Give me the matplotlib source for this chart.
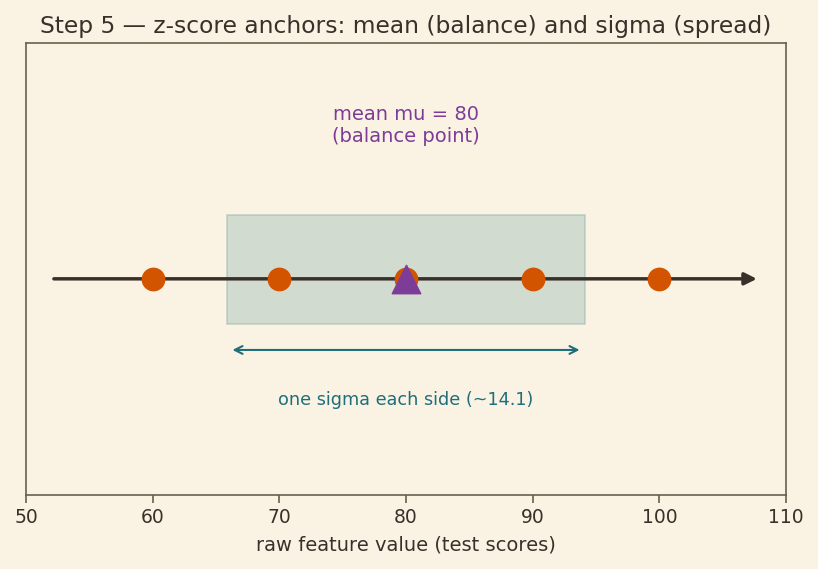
import matplotlib
matplotlib.use("Agg")
import matplotlib.pyplot as plt
import numpy as np

scores = [60, 70, 80, 90, 100]
mu = 80
sigma = 14.1421
xticks = [50, 60, 70, 80, 90, 100, 110]

bg = "#FAF3E3"
dark = "#3a302a"
spine = "#6b5e4b"
orange = "#D35400"
purple = "#7D3C98"
teal = "#1f6e7a"

fig, ax = plt.subplots(figsize=(8.18, 5.69), dpi=100)
fig.patch.set_facecolor(bg)
ax.set_facecolor(bg)
fig.subplots_adjust(left=26/818, right=786/818, top=1-43/569, bottom=1-495/569)

ax.set_xlim(50, 110)
ax.set_ylim(-1.1, 1.2)

# sigma band
ax.add_patch(plt.Rectangle((mu - sigma, -0.23), 2 * sigma, 0.555,
                           facecolor="#a9c4bd", alpha=0.5, edgecolor="#8fb5ab",
                           linewidth=1.2, zorder=1))

# number line
ax.annotate("", xy=(107.7, 0), xytext=(52.2, 0),
            arrowprops=dict(arrowstyle="-|>", color=dark, lw=2.5,
                            mutation_scale=18, shrinkA=0, shrinkB=0), zorder=2)

ax.scatter(scores, [0] * len(scores), s=260, color=orange, zorder=3)
ax.scatter([mu], [0], marker="^", s=420, color=purple, zorder=4)

ax.text(mu, 0.78, "mean mu = 80\n(balance point)", ha="center", va="center",
        color=purple, fontsize=14)

ax.annotate("", xy=(mu + sigma, -0.362), xytext=(mu - sigma, -0.362),
            arrowprops=dict(arrowstyle="<->", color=teal, lw=1.5,
                            mutation_scale=14, shrinkA=4, shrinkB=4), zorder=2)
ax.text(mu, -0.617, "one sigma each side (~14.1)", ha="center", va="center",
        color=teal, fontsize=12.7)

ax.set_xticks(xticks)
ax.set_xticklabels([str(t) for t in xticks])
ax.set_yticks([])
ax.tick_params(axis="x", colors=spine, labelcolor=dark, labelsize=13.5, length=6, width=1.2)
for s in ax.spines.values():
    s.set_color(spine)
    s.set_linewidth(1.2)

ax.set_xlabel("raw feature value (test scores)", fontsize=14, color=dark, labelpad=6)
ax.set_title("Step 5 \u2014 z-score anchors: mean (balance) and sigma (spread)",
             fontsize=16.8, color=dark, pad=7)

fig.savefig("out.png", dpi=100, facecolor=bg)
